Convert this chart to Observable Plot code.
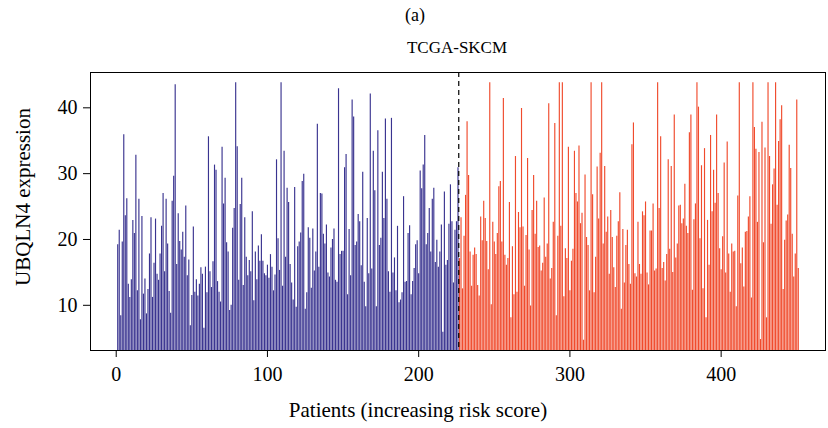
<!DOCTYPE html>
<html><head><meta charset="utf-8">
<script src="https://cdn.jsdelivr.net/npm/d3@7"></script>
<script src="https://cdn.jsdelivr.net/npm/@observablehq/plot@0.6"></script>
<style>body{margin:0;background:#fff}</style>
</head><body><div id="chart"></div>
<script>
const lowRisk = [
19.2,21.4,8.4,19.6,35.9,23.6,26.2,13.2,11.2,13.9,22.9,20.9,32.8,12.2,26.1,7.8,23.5,11.7,14.0,8.7,12.4,17.8,23.3,11.2,16.4,23.1,14.7,13.8,17.8,22.0,27.0,15.1,26.1,19.3,12.1,8.8,25.8,
29.6,43.5,16.2,23.9,19.7,18.4,21.1,17.3,25.1,14.5,16.9,6.9,11.5,21.9,12.0,13.9,11.4,13.2,15.7,14.7,6.5,15.8,11.9,35.6,15.1,12.7,16.6,31.3,30.5,13.6,12.0,10.5,34.0,25.4,29.3,19.5,18.1,9.2,
10.0,21.7,24.7,43.8,34.1,13.8,25.3,29.3,13.0,23.3,17.3,14.5,16.8,15.1,24.2,10.7,18.1,13.9,19.0,16.7,20.7,16.7,14.8,14.5,16.1,14.1,17.7,15.8,12.2,14.6,32.1,20.1,15.3,43.8,12.9,33.4,17.3,27.8,25.6,
16.2,13.4,10.8,27.9,9.7,18.9,19.6,21.0,28.8,29.9,9.4,11.9,21.8,20.2,12.6,21.6,15.2,18.1,37.5,15.8,27.0,26.9,20.8,19.3,22.2,14.9,14.3,18.7,20.0,21.6,13.8,13.5,42.9,17.7,18.2,18.2,30.9,32.9,
11.6,21.5,14.5,41.2,38.6,19.1,19.6,23.8,22.7,16.0,30.2,13.5,9.8,23.2,14.8,42.1,15.5,33.4,27.4,9.8,36.5,19.1,20.2,30.2,23.2,38.3,26.1,15.1,12.0,38.4,14.9,17.2,12.2,22.0,10.4,10.8,11.9,26.5,
13.5,13.6,20.9,22.1,11.6,13.6,15.6,19.2,19.8,14.8,30.4,27.7,31.3,35.8,19.2,20.9,24.7,18.1,26.1,27.8,16.5,19.9,15.8,18.1,22.2,5.9,27.2,16.1,16.8,22.3,28.3,22.7,13.4,21.4,22.7,30.9
];
const highRisk = [
17.1,23.3,12.5,
20.5,26.7,37.9,29.7,18.1,12.9,17.6,18.7,17.7,13.0,11.4,23.4,19.8,25.8,23.2,19.7,15.4,43.8,10.1,22.6,19.6,17.7,20.9,28.0,28.8,19.6,41.4,17.6,16.1,17.1,25.6,8.1,18.9,11.6,32.6,12.0,24.1,21.8,39.9,
21.9,12.9,20.6,32.3,18.4,9.9,24.4,29.7,20.8,25.8,18.8,19.0,15.2,16.4,26.3,17.3,19.3,40.6,14.0,15.6,22.6,37.6,8.4,20.5,43.8,22.0,43.8,11.3,18.6,17.1,34.0,12.2,16.7,18.5,33.4,27.0,25.7,
34.2,22.4,24.0,4.7,29.8,20.3,19.1,12.2,43.8,26.8,11.9,17.3,31.0,23.1,33.1,43.8,19.3,31.1,21.1,23.4,14.7,24.4,20.3,15.7,12.7,20.5,22.7,27.1,9.4,21.5,13.4,19.1,21.4,16.2,13.2,34.4,37.7,14.8,
14.3,22.6,16.2,14.7,24.2,23.6,25.7,14.9,13.1,21.3,21.3,25.4,15.2,15.5,43.8,24.7,35.6,15.6,16.5,13.7,17.7,32.1,18.5,31.1,15.0,38.9,17.2,19.3,25.1,25.2,22.4,23.1,28.4,22.0,20.9,36.2,38.9,12.3,
23.0,25.4,43.8,40.1,20.1,31.2,12.5,33.8,8.1,22.9,16.1,35.8,24.2,30.5,25.5,38.9,27.0,18.6,15.4,20.4,31.6,14.9,34.8,17.8,12.0,19.3,18.1,18.2,9.8,26.6,43.8,16.3,18.7,12.8,21.1,21.2,23.4,26.5,
11.1,43.8,37.0,33.7,22.6,33.2,4.8,37.8,19.5,33.9,8.1,43.8,32.6,22.3,28.3,30.7,43.8,25.2,34.9,38.2,40.3,12.4,19.9,22.8,23.7,34.3,30.8,20.8,14.3,17.8,41.2,15.6
];
const groups = ["Low risk", "High risk"];
const groupColors = ["#3a3490", "#f04b2d"];
const xTicks = [0, 100, 200, 300, 400];
const yTicks = [10, 20, 30, 40];
const figureTag = "(a)";
const chartTitle = "TCGA-SKCM";
const xLabel = "Patients (increasing risk score)";
const yLabel = "UBQLN4 expression";

const data = [
  ...lowRisk.map((v, i) => ({patient: i + 1, value: v, group: groups[0]})),
  ...highRisk.map((v, i) => ({patient: lowRisk.length + i + 1, value: v, group: groups[1]}))
];
const n = data.length;
const [lo, hi] = d3.extent(data, d => d.value);
const yPad = 0.04 * (hi - lo);
const xPad = 0.04 * (n - 1);
const cut = lowRisk.length + 0.5;
const yMin = lo - yPad;

const font = "'Liberation Serif', 'DejaVu Serif', serif";
const plot = Plot.plot({
  width: 828, height: 428,
  marginLeft: 90, marginRight: 3, marginTop: 72, marginBottom: 78,
  style: {fontFamily: font, fontSize: "20px", background: "white", color: "black"},
  x: {domain: [1 - xPad, n + xPad], label: null},
  y: {domain: [yMin, hi + yPad], label: null},
  color: {domain: groups, range: groupColors},
  marks: [
    Plot.ruleX(data, {x: "patient", y1: yMin, y2: "value", stroke: "group", strokeWidth: 1.15}),
    Plot.ruleX([cut], {stroke: "black", strokeDasharray: "5,4", strokeWidth: 1.2}),
    Plot.frame({stroke: "black", strokeWidth: 1}),
    Plot.axisX({ticks: xTicks, tickSize: 7, tickPadding: 9, fontSize: 20, label: null}),
    Plot.axisY({ticks: yTicks, tickSize: 7, tickPadding: 6, fontSize: 20, label: null})
  ]
});
document.getElementById("chart").appendChild(plot);

const svg = d3.select(plot);
svg.append("text").attr("x", 415).attr("y", 21).attr("text-anchor", "middle")
  .style("font-family", font).style("font-size", "18px").text(figureTag);
svg.append("text").attr("x", 457).attr("y", 53).attr("text-anchor", "middle")
  .style("font-family", font).style("font-size", "17px").text(chartTitle);
svg.append("text").attr("x", 418).attr("y", 417).attr("text-anchor", "middle")
  .style("font-family", font).style("font-size", "21px").text(xLabel);
svg.append("text").attr("transform", "translate(30,197) rotate(-90)").attr("text-anchor", "middle")
  .style("font-family", font).style("font-size", "21px").text(yLabel);
</script>
</body></html>
